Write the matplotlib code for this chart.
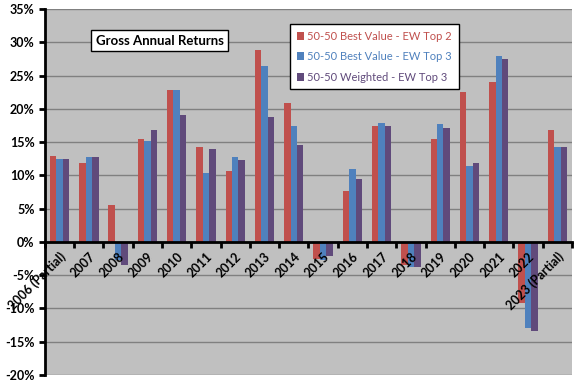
import numpy as np
import matplotlib.pyplot as plt
from matplotlib.ticker import FuncFormatter, MultipleLocator

years = ["2006 (Partial)", "2007", "2008", "2009", "2010", "2011", "2012", "2013",
         "2014", "2015", "2016", "2017", "2018", "2019", "2020", "2021", "2022",
         "2023 (Partial)"]
ew_top2 = [12.9, 11.9, 5.6, 15.5, 22.8, 14.2, 10.7, 28.8, 20.9, -2.6, 7.6, 17.4,
           -3.5, 15.4, 22.5, 24.1, -9.2, 16.8]
ew_top3 = [12.5, 12.7, -2.7, 15.2, 22.8, 10.3, 12.8, 26.4, 17.4, -2.7, 11.0, 17.8,
           -3.7, 17.7, 11.4, 27.9, -13.0, 14.3]
weighted = [12.5, 12.7, -3.4, 16.8, 19.1, 14.0, 12.3, 18.8, 14.6, -2.1, 9.5, 17.4,
            -3.7, 17.1, 11.9, 27.5, -13.4, 14.3]

names = ["50-50 Best Value - EW Top 2", "50-50 Best Value - EW Top 3",
         "50-50 Weighted - EW Top 3"]
colors = ["#C0504D", "#4F81BD", "#604A7B"]

plt.rcParams['font.family'] = ['Lato', 'DejaVu Sans']

fig = plt.figure(figsize=(5.76, 3.84), dpi=100)
ax = fig.add_axes([0.078, 0.0234, 0.915, 0.9532])
ax.set_facecolor("#C0C0C0")

x = np.arange(len(years))
w = 0.22
for k, (vals, c, n) in enumerate(zip([ew_top2, ew_top3, weighted], colors, names)):
    ax.bar(x + (k - 1) * w, vals, w, color=c, label=n, zorder=2)

ax.set_xlim(-0.5, len(years) - 0.5)
ax.set_ylim(-20, 35)
ax.yaxis.set_major_locator(MultipleLocator(5))
ax.yaxis.set_major_formatter(FuncFormatter(lambda v, p: f"{v:.0f}%"))
ax.yaxis.grid(True, color="#808080", lw=1)
ax.set_axisbelow(True)
ax.xaxis.set_zorder(4)

ax.spines['bottom'].set_position(('data', 0))
ax.spines['bottom'].set_linewidth(2)
ax.spines['bottom'].set_zorder(3)
ax.spines['left'].set_linewidth(2)
ax.spines['top'].set_visible(False)
ax.spines['right'].set_visible(False)

ax.set_xticks(x)
ax.set_xticklabels(years, rotation=45, ha='right', va='top', rotation_mode='anchor',
                   fontsize=9, fontweight='bold')
ax.set_xticks(np.arange(len(years) + 1) - 0.5, minor=True)
ax.tick_params(axis='x', which='major', length=0, pad=6)
ax.tick_params(axis='x', which='minor', length=4, width=2, direction='out')
ax.tick_params(axis='y', length=4, width=2, labelsize=9)
for t in ax.get_yticklabels():
    t.set_fontweight('bold')

ax.text(0.218, 0.913, "Gross Annual Returns", transform=ax.transAxes, ha='center',
        va='center', fontsize=9.5, fontweight='bold', zorder=5,
        bbox=dict(boxstyle='square,pad=0.35', fc='white', ec='black', lw=1))

leg = ax.legend(loc='upper left', bbox_to_anchor=(0.465, 0.959), fontsize=8,
                frameon=True, fancybox=False, edgecolor='black', framealpha=1,
                handlelength=0.7, handleheight=0.7, handletextpad=0.25,
                labelspacing=0.85, borderpad=0.6, borderaxespad=0)
leg.get_frame().set_linewidth(1)
leg.set_zorder(5)
for t, c in zip(leg.get_texts(), colors):
    t.set_color(c)

fig.savefig("out.png", dpi=100)
